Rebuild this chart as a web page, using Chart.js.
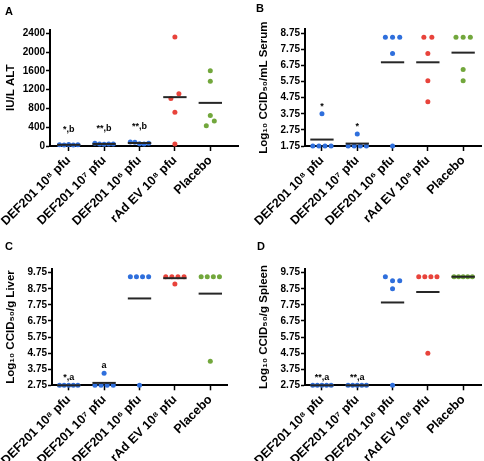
<!DOCTYPE html>
<html>
<head>
<meta charset="utf-8">
<script src="https://cdn.jsdelivr.net/npm/chart.js@4.4.0/dist/chart.umd.min.js"></script>
<style>
body { margin: 0; background: #fff; }
#wrap { position: relative; width: 484px; height: 461px; font-family: "Liberation Sans", Arial, sans-serif; }
canvas { position: absolute; }
.tag { position: absolute; font-weight: bold; font-size: 11px; line-height: 11px; color: #000; }
</style>
</head>
<body>
<div id="wrap">
  <canvas id="cA" width="242" height="230" style="left:0;top:0"></canvas>
  <canvas id="cB" width="242" height="230" style="left:242px;top:0"></canvas>
  <canvas id="cC" width="242" height="231" style="left:0;top:230px"></canvas>
  <canvas id="cD" width="242" height="231" style="left:242px;top:230px"></canvas>
  <div class="tag" style="left:5px;top:6px">A</div>
  <div class="tag" style="left:256px;top:3px">B</div>
  <div class="tag" style="left:5px;top:241px">C</div>
  <div class="tag" style="left:257px;top:241px">D</div>
</div>
<script>
const FONT = '"Liberation Sans", Arial, sans-serif';

const groups = ['DEF201 10⁸ pfu', 'DEF201 10⁷ pfu', 'DEF201 10⁶ pfu', 'rAd EV 10⁸ pfu', 'Placebo'];
const groupColors = ['#2f6fdc', '#2f6fdc', '#2f6fdc', '#e8433b', '#72a73c'];

// A - ALT
const altValues = [
  [25, 20, 30, 22, 28],
  [60, 45, 35, 40, 42],
  [85, 80, 50, 45, 60],
  [2320, 1010, 1110, 720, 40],
  [1600, 1380, 650, 430, 530]
];
const altMeans = [25, 44, 64, 1040, 918];
const altTicks = [0, 400, 800, 1200, 1600, 2000, 2400];
const altMarks = ['*,b', '**,b', '**,b', '', ''];

// B - serum
const serumValues = [
  [1.75, 1.75, 3.75, 1.75, 1.75],
  [1.75, 1.75, 2.5, 1.75, 1.75],
  [8.5, 8.5, 8.5, 7.5, 1.75],
  [8.5, 8.5, 7.5, 5.8, 4.5],
  [8.5, 8.5, 8.5, 6.5, 5.8]
];
const serumMeans = [2.15, 1.9, 6.95, 6.95, 7.55];
const serumTicks = [1.75, 2.75, 3.75, 4.75, 5.75, 6.75, 7.75, 8.75];
const serumMarks = ['*', '*', '', '', ''];

// C - liver
const liverValues = [
  [2.75, 2.75, 2.75, 2.75, 2.75],
  [2.75, 2.75, 3.5, 2.75, 2.75],
  [9.5, 9.5, 9.5, 9.5, 2.75],
  [9.5, 9.5, 9.5, 9.5, 9.05],
  [9.5, 9.5, 9.5, 9.5, 4.25]
];
const liverMeans = [2.75, 2.9, 8.15, 9.41, 8.45];
const liverTicks = [2.75, 3.75, 4.75, 5.75, 6.75, 7.75, 8.75, 9.75];
const liverMarks = ['*,a', 'a', '', '', ''];

// D - spleen
const spleenValues = [
  [2.75, 2.75, 2.75, 2.75, 2.75],
  [2.75, 2.75, 2.75, 2.75, 2.75],
  [9.5, 9.25, 9.25, 8.75, 2.75],
  [9.5, 9.5, 9.5, 9.5, 4.75],
  [9.5, 9.5, 9.5, 9.5, 9.5]
];
const spleenMeans = [2.75, 2.75, 7.9, 8.55, 9.5];
const spleenTicks = liverTicks;
const spleenMarks = ['**,a', '**,a', '', '', ''];

const CAT_STEP = 35.4;
const SPREAD = [0, 0, 8, 7.2, 6.1, 4.6];

// spread points that would overlap, keeping data order left to right
function jitter(vals, pxPerUnit) {
  const order = vals.map((v, i) => i).sort((a, b) => vals[a] - vals[b] || a - b);
  const clusters = [];
  order.forEach((i, k) => {
    if (k > 0 && (vals[i] - vals[order[k - 1]]) * pxPerUnit < 5) clusters[clusters.length - 1].push(i);
    else clusters.push([i]);
  });
  const off = vals.map(() => 0);
  clusters.forEach(c => {
    c.sort((a, b) => a - b);
    const step = SPREAD[c.length] || 4.6;
    c.forEach((i, k) => { off[i] = (k - (c.length - 1) / 2) * step; });
  });
  return off;
}

function marksPlugin(texts, values, gap) {
  return {
    id: 'marks',
    afterDatasetsDraw(chart) {
      const { ctx, scales: { x, y } } = chart;
      ctx.save();
      ctx.font = 'bold 9px ' + FONT;
      ctx.fillStyle = '#000';
      ctx.textAlign = 'center';
      ctx.textBaseline = 'middle';
      texts.forEach((t, i) => {
        if (!t) return;
        const top = Math.max(...values[i]);
        ctx.fillText(t, x.getPixelForValue(i), y.getPixelForValue(top) - gap);
      });
      ctx.restore();
    }
  };
}

function panel(id, p) {
  const cv = document.getElementById(id);
  const W = cv.width, H = cv.height;
  const a = p.area;
  const yPx = (a.bottom - a.top) / (p.yMax - p.yMin);
  const datasets = [];
  groups.forEach((g, i) => {
    const off = jitter(p.values[i], yPx);
    datasets.push({
      type: 'scatter',
      data: p.values[i].map((v, k) => ({ x: i + off[k] / CAT_STEP, y: v })),
      backgroundColor: groupColors[i],
      borderWidth: 0,
      pointRadius: 2.5,
      pointHoverRadius: 2.5,
      order: 1,
      clip: false
    });
    datasets.push({
      type: 'line',
      data: [{ x: i - 0.33, y: p.means[i] }, { x: i + 0.33, y: p.means[i] }],
      borderColor: '#262626',
      borderWidth: 2,
      pointRadius: 0,
      order: 0,
      clip: false
    });
  });

  new Chart(cv, {
    type: 'scatter',
    data: { datasets },
    options: {
      responsive: false,
      animation: false,
      events: [],
      layout: { padding: { left: 0, top: a.top, right: W - a.right, bottom: 0 } },
      plugins: { legend: { display: false }, tooltip: { enabled: false } },
      scales: {
        x: {
          type: 'linear',
          min: (a.left - p.cat0) / CAT_STEP,
          max: (a.right - p.cat0) / CAT_STEP,
          afterBuildTicks: s => { s.ticks = groups.map((g, i) => ({ value: i })); },
          afterFit: s => { s.height = H - a.bottom; s.paddingLeft = 0; s.paddingRight = 0; },
          ticks: {
            callback: v => groups[v],
            autoSkip: false,
            maxRotation: 45,
            minRotation: 45,
            color: '#000',
            padding: 2,
            font: { family: FONT, size: 12.5, weight: 'bold' }
          },
          grid: { drawOnChartArea: false, tickLength: 5, tickColor: '#000', tickWidth: 1.5 },
          border: { color: '#000', width: 2 }
        },
        y: {
          min: p.yMin,
          max: p.yMax,
          afterBuildTicks: s => { s.ticks = p.ticks.map(v => ({ value: v })); },
          afterFit: s => { s.width = a.left; s.paddingTop = 0; s.paddingBottom = 0; },
          ticks: {
            callback: p.fmt,
            color: '#000',
            padding: 1,
            font: { family: FONT, size: 10, weight: 'bold' }
          },
          grid: { drawOnChartArea: false, tickLength: 4, tickColor: '#000', tickWidth: 1.5 },
          border: { color: '#000', width: 2 },
          title: {
            display: true,
            text: p.title,
            color: '#000',
            font: { family: FONT, size: 11.5, weight: 'bold' },
            padding: { top: p.titlePad, bottom: 0 }
          }
        }
      }
    },
    plugins: [marksPlugin(p.marks, p.values, p.markGap)]
  });
}

const intFmt = v => String(v);
const decFmt = v => v.toFixed(2);

panel('cA', {
  values: altValues, means: altMeans, ticks: altTicks, marks: altMarks,
  yMin: 0, yMax: 2480, fmt: intFmt, title: 'IU/L ALT',
  area: { left: 50, right: 238, top: 29.5, bottom: 146 }, cat0: 68.7, titlePad: 3.5, markGap: 15
});
panel('cB', {
  values: serumValues, means: serumMeans, ticks: serumTicks, marks: serumMarks,
  yMin: 1.75, yMax: 9.0, fmt: decFmt, title: 'Log₁₀ CCID₅₀/mL Serum',
  area: { left: 63, right: 240, top: 29.3, bottom: 146 }, cat0: 80, titlePad: 15, markGap: 7
});
panel('cC', {
  values: liverValues, means: liverMeans, ticks: liverTicks, marks: liverMarks,
  yMin: 2.75, yMax: 10.0, fmt: decFmt, title: 'Log₁₀ CCID₅₀/g Liver',
  area: { left: 52, right: 227, top: 38.7, bottom: 155.3 }, cat0: 68.7, titlePad: 3.5, markGap: 8
});
panel('cD', {
  values: spleenValues, means: spleenMeans, ticks: spleenTicks, marks: spleenMarks,
  yMin: 2.75, yMax: 10.0, fmt: decFmt, title: 'Log₁₀ CCID₅₀/g Spleen',
  area: { left: 63, right: 240, top: 38.7, bottom: 155.3 }, cat0: 80, titlePad: 14.5, markGap: 8
});
</script>
</body>
</html>
